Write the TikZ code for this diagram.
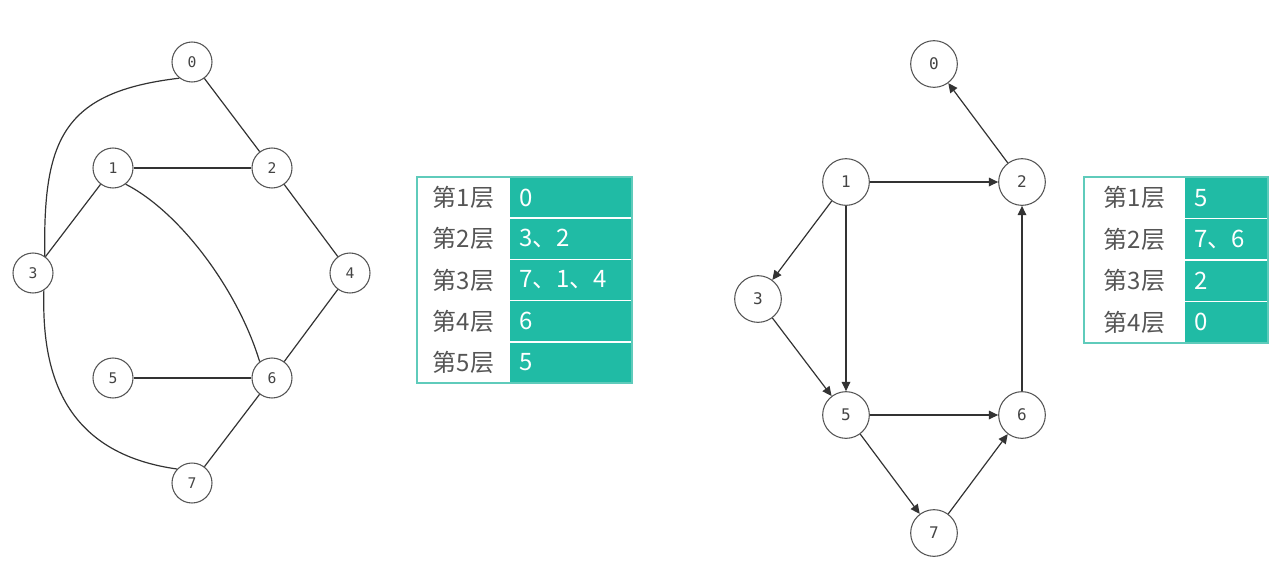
\documentclass[tikz,border=0pt]{standalone}
\usepackage{fontspec}
\newfontfamily\cjkfont{Noto Sans CJK SC}
\newfontfamily\numfont{DejaVu Sans Mono}
\usetikzlibrary{arrows.meta}

\definecolor{cellteal}{HTML}{20BBA5}
\definecolor{rimteal}{HTML}{5FCBBB}
\definecolor{ringgray}{HTML}{555555}
\definecolor{wiregray}{HTML}{333333}
\definecolor{labelgray}{HTML}{444444}
\definecolor{rowtext}{HTML}{555555}

\tikzset{
  vtx/.style={circle, draw=ringgray, fill=white, line width=0.8pt, inner sep=0pt,
    minimum size=30pt, text=labelgray, font=\numfont\fontsize{11}{13}\selectfont},
  bigvtx/.style={vtx, minimum size=35pt, font=\numfont\fontsize{12}{14}\selectfont},
  wire/.style={draw=wiregray, line width=0.9pt},
  arc/.style={wire, -{Triangle[length=7pt,width=6.5pt]}},
  rowname/.style={text=rowtext, font=\cjkfont\fontsize{18}{21}\selectfont, inner sep=0pt},
  rowval/.style={text=white, font=\cjkfont\fontsize{18}{21}\selectfont, inner sep=0pt, anchor=west}
}

\begin{document}
\begin{tikzpicture}[x=0.75pt,y=-0.75pt]
\useasboundingbox (0,0) rectangle (1288,569);

% ---------- undirected graph ----------
\node[vtx] (l0) at (192,62)  {0};
\node[vtx] (l1) at (113,168) {1};
\node[vtx] (l2) at (272,168) {2};
\node[vtx] (l3) at (33,273)  {3};
\node[vtx] (l4) at (350,273) {4};
\node[vtx] (l5) at (113,378) {5};
\node[vtx] (l6) at (272,378) {6};
\node[vtx] (l7) at (192,483) {7};

\draw[wire] (l0) -- (l2);
\draw[wire] (l1) -- (l2);
\draw[wire] (l1) -- (l3);
\draw[wire] (l2) -- (l4);
\draw[wire] (l4) -- (l6);
\draw[wire] (l5) -- (l6);
\draw[wire] (l6) -- (l7);
\draw[wire] (l0.232) .. controls (62,92) and (43,140) .. (l3.55);
\draw[wire] (l3.302) .. controls (42,360) and (55,452) .. (l7.137);
\draw[wire] (l1.308) .. controls (180,212) and (238,290) .. (l6.127);

% ---------- levels of the undirected graph ----------
\fill[cellteal] (510,177) rectangle (632,383);
\foreach \i in {1,...,4}
  \draw[white, line width=1.3pt] (510,{177+41.2*\i}) -- (632,{177+41.2*\i});
\draw[rimteal, line width=1pt] (417,177) rectangle (632,383);
\foreach \i/\v in {1/0, 2/{3、2}, 3/{7、1、4}, 4/6, 5/5} {
  \node[rowname] (la\i) at (463.5,{177+41.2*(\i-0.5)}) {第\i 层};
  \node[rowval]  (lb\i) at (519,{177+41.2*(\i-0.5)}) {\v};
}

% ---------- directed graph ----------
\node[bigvtx] (r0) at (934,64)  {0};
\node[bigvtx] (r1) at (846,182) {1};
\node[bigvtx] (r2) at (1022,182) {2};
\node[bigvtx] (r3) at (758,299) {3};
\node[bigvtx] (r5) at (846,415) {5};
\node[bigvtx] (r6) at (1022,415) {6};
\node[bigvtx] (r7) at (934,533) {7};

\draw[arc] (r2) -- (r0);
\draw[arc] (r1) -- (r2);
\draw[arc] (r1) -- (r3);
\draw[arc] (r1) -- (r5);
\draw[arc] (r3) -- (r5);
\draw[arc] (r5) -- (r6);
\draw[arc] (r5) -- (r7);
\draw[arc] (r7) -- (r6);
\draw[arc] (r6) -- (r2);

% ---------- levels of the directed graph ----------
\fill[cellteal] (1185,177) rectangle (1268,343);
\foreach \i in {1,...,3}
  \draw[white, line width=1.3pt] (1185,{177+41.5*\i}) -- (1268,{177+41.5*\i});
\draw[rimteal, line width=1pt] (1084,177) rectangle (1268,343);
\foreach \i/\v in {1/5, 2/{7、6}, 3/2, 4/0} {
  \node[rowname] (ra\i) at (1134.5,{177+41.5*(\i-0.5)}) {第\i 层};
  \node[rowval]  (rb\i) at (1194,{177+41.5*(\i-0.5)}) {\v};
}
\end{tikzpicture}
\end{document}
